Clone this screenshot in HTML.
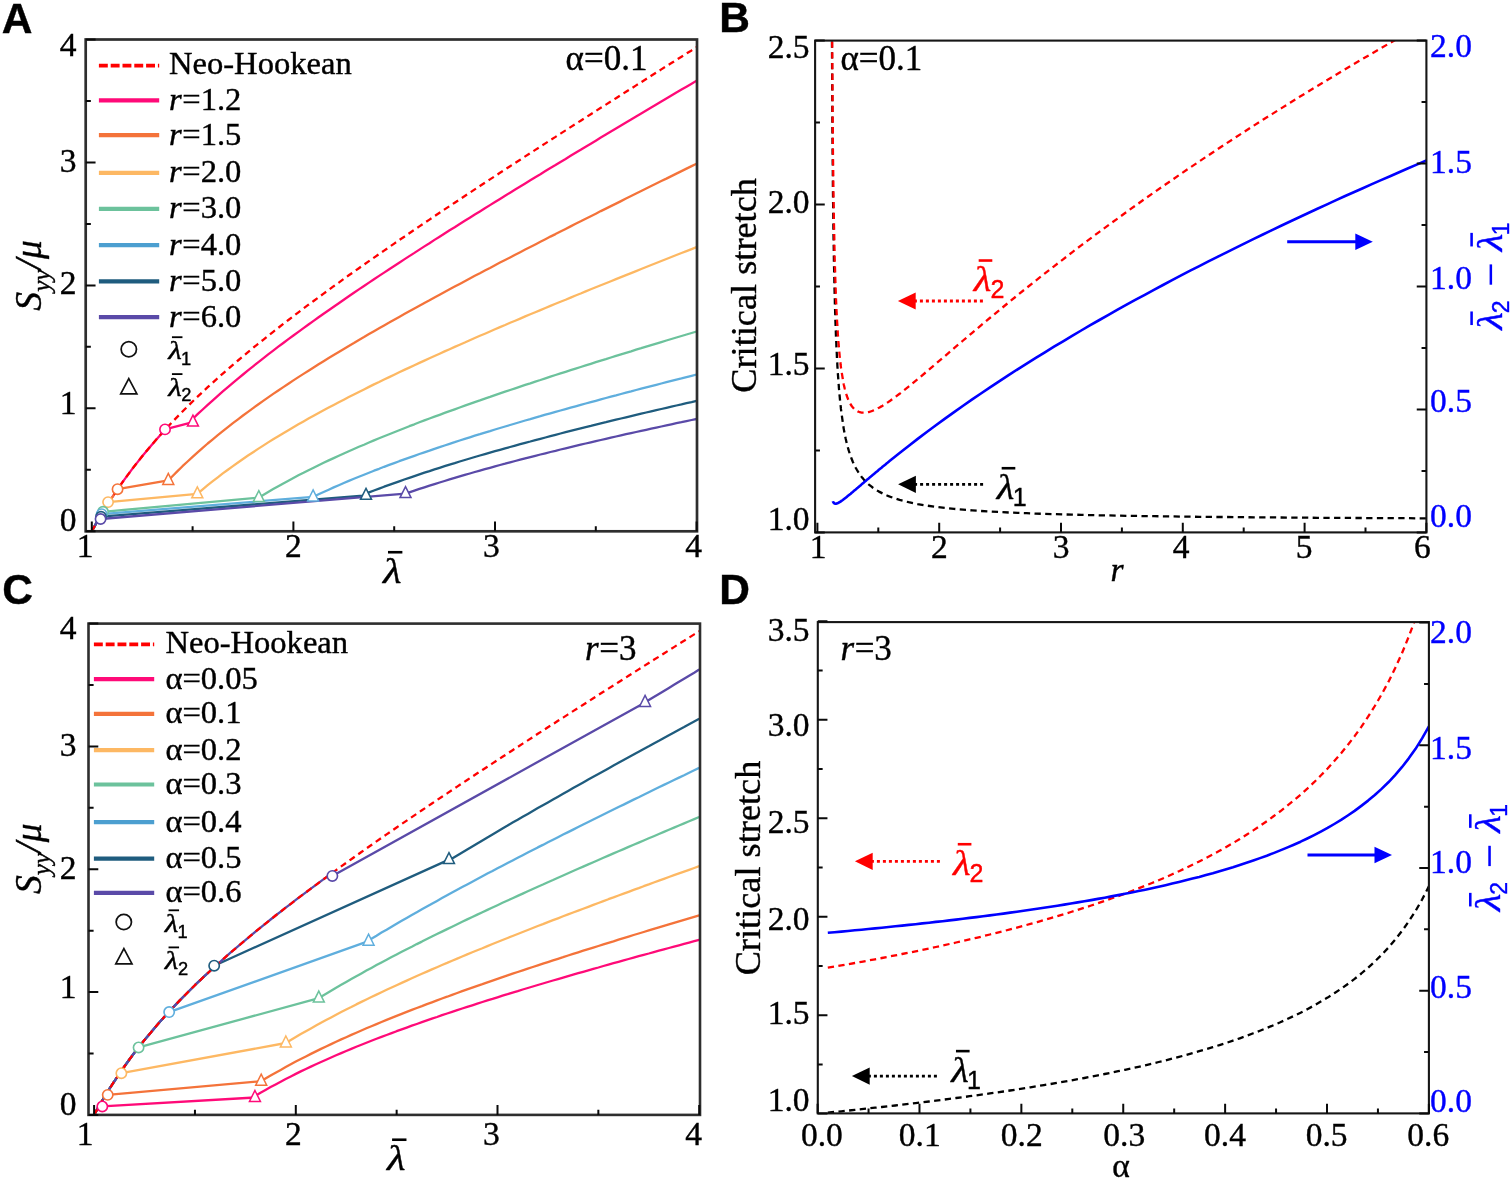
<!DOCTYPE html>
<html><head><meta charset="utf-8"><title>Figure</title>
<style>html,body{margin:0;padding:0;background:#fff}svg{display:block}text{stroke:#000;stroke-width:.4px}text[fill="#0000FF"],g[fill="#0000FF"] text{stroke:#0000FF}text[fill="#FF0000"],g[fill="#FF0000"] text{stroke:#FF0000}</style></head>
<body>
<svg width="1511" height="1181" viewBox="0 0 1511 1181">
<rect width="1511" height="1181" fill="#fff"/>
<clipPath id="clipA"><rect x="85.7" y="39.5" width="611.3" height="491.79999999999995"/></clipPath>
<g clip-path="url(#clipA)" fill="none" stroke-linejoin="round" stroke-width="2.3">
<path d="M91.8,531.3 L96.8,522.3 L101.9,513.7 L106.9,505.5 L112.0,497.7 L117.0,490.1 L122.0,482.9 L127.1,475.9 L132.1,469.1 L137.2,462.6 L142.2,456.3 L147.2,450.2 L152.3,444.2 L157.3,438.4 L162.4,432.8 L165.0,429.4 L192.9,422.1 L192.6,419.0 L197.6,414.2 L202.7,409.5 L207.7,404.9 L212.8,400.3 L217.8,395.8 L222.8,391.4 L227.9,387.1 L232.9,382.8 L238.0,378.6 L243.0,374.5 L248.0,370.4 L253.1,366.3 L258.1,362.3 L263.2,358.4 L268.2,354.4 L273.2,350.6 L278.3,346.7 L283.3,343.0 L288.4,339.2 L293.4,335.5 L298.4,331.8 L303.5,328.1 L308.5,324.5 L313.6,320.9 L318.6,317.3 L323.6,313.7 L328.7,310.2 L333.7,306.7 L338.8,303.2 L343.8,299.7 L348.8,296.3 L353.9,292.8 L358.9,289.4 L364.0,286.0 L369.0,282.6 L374.0,279.3 L379.1,275.9 L384.1,272.6 L389.2,269.3 L394.2,266.0 L399.2,262.7 L404.3,259.4 L409.3,256.1 L414.4,252.9 L419.4,249.6 L424.4,246.4 L429.5,243.2 L434.5,239.9 L439.6,236.7 L444.6,233.5 L449.6,230.3 L454.7,227.2 L459.7,224.0 L464.8,220.8 L469.8,217.7 L474.8,214.5 L479.9,211.4 L484.9,208.3 L490.0,205.1 L495.0,202.0 L500.0,198.9 L505.1,195.8 L510.1,192.7 L515.2,189.6 L520.2,186.5 L525.2,183.4 L530.3,180.3 L535.3,177.2 L540.4,174.2 L545.4,171.1 L550.4,168.0 L555.5,165.0 L560.5,161.9 L565.6,158.9 L570.6,155.8 L575.6,152.8 L580.7,149.8 L585.7,146.7 L590.8,143.7 L595.8,140.7 L600.8,137.6 L605.9,134.6 L610.9,131.6 L616.0,128.6 L621.0,125.6 L626.0,122.6 L631.1,119.6 L636.1,116.6 L641.2,113.6 L646.2,110.6 L651.2,107.6 L656.3,104.6 L661.3,101.6 L666.4,98.6 L671.4,95.6 L676.4,92.6 L681.5,89.6 L686.5,86.7 L691.6,83.7 L696.6,80.7" stroke="#FF0A78"/>
<path d="M91.8,531.3 L96.8,522.3 L101.9,513.7 L106.9,505.5 L112.0,497.7 L117.0,490.1 L117.6,489.2 L168.3,480.4 L172.4,476.2 L177.5,471.1 L182.5,466.2 L187.6,461.5 L192.6,456.8 L197.6,452.3 L202.7,447.9 L207.7,443.5 L212.8,439.3 L217.8,435.2 L222.8,431.1 L227.9,427.1 L232.9,423.2 L238.0,419.3 L243.0,415.5 L248.0,411.8 L253.1,408.1 L258.1,404.5 L263.2,400.9 L268.2,397.4 L273.2,393.9 L278.3,390.5 L283.3,387.1 L288.4,383.7 L293.4,380.4 L298.4,377.1 L303.5,373.9 L308.5,370.7 L313.6,367.5 L318.6,364.3 L323.6,361.2 L328.7,358.1 L333.7,355.0 L338.8,352.0 L343.8,349.0 L348.8,345.9 L353.9,343.0 L358.9,340.0 L364.0,337.1 L369.0,334.1 L374.0,331.2 L379.1,328.3 L384.1,325.4 L389.2,322.6 L394.2,319.7 L399.2,316.9 L404.3,314.1 L409.3,311.3 L414.4,308.5 L419.4,305.7 L424.4,302.9 L429.5,300.2 L434.5,297.4 L439.6,294.7 L444.6,292.0 L449.6,289.3 L454.7,286.6 L459.7,283.9 L464.8,281.2 L469.8,278.5 L474.8,275.8 L479.9,273.2 L484.9,270.5 L490.0,267.9 L495.0,265.2 L500.0,262.6 L505.1,260.0 L510.1,257.4 L515.2,254.8 L520.2,252.2 L525.2,249.6 L530.3,247.0 L535.3,244.4 L540.4,241.8 L545.4,239.2 L550.4,236.6 L555.5,234.1 L560.5,231.5 L565.6,228.9 L570.6,226.4 L575.6,223.8 L580.7,221.3 L585.7,218.7 L590.8,216.2 L595.8,213.7 L600.8,211.1 L605.9,208.6 L610.9,206.1 L616.0,203.6 L621.0,201.1 L626.0,198.5 L631.1,196.0 L636.1,193.5 L641.2,191.0 L646.2,188.5 L651.2,186.0 L656.3,183.5 L661.3,181.0 L666.4,178.6 L671.4,176.1 L676.4,173.6 L681.5,171.1 L686.5,168.6 L691.6,166.1 L696.6,163.7" stroke="#F4733A"/>
<path d="M91.8,531.3 L96.8,522.3 L101.9,513.7 L106.9,505.5 L108.1,502.1 L197.3,493.8 L197.6,493.6 L202.7,489.3 L207.7,485.2 L212.8,481.2 L217.8,477.3 L222.8,473.4 L227.9,469.7 L232.9,466.1 L238.0,462.5 L243.0,459.0 L248.0,455.5 L253.1,452.2 L258.1,448.9 L263.2,445.6 L268.2,442.4 L273.2,439.3 L278.3,436.2 L283.3,433.2 L288.4,430.2 L293.4,427.2 L298.4,424.3 L303.5,421.4 L308.5,418.6 L313.6,415.8 L318.6,413.0 L323.6,410.3 L328.7,407.6 L333.7,404.9 L338.8,402.3 L343.8,399.7 L348.8,397.1 L353.9,394.5 L358.9,392.0 L364.0,389.4 L369.0,386.9 L374.0,384.4 L379.1,382.0 L384.1,379.5 L389.2,377.1 L394.2,374.7 L399.2,372.3 L404.3,369.9 L409.3,367.6 L414.4,365.2 L419.4,362.9 L424.4,360.6 L429.5,358.3 L434.5,356.0 L439.6,353.7 L444.6,351.4 L449.6,349.2 L454.7,346.9 L459.7,344.7 L464.8,342.5 L469.8,340.2 L474.8,338.0 L479.9,335.8 L484.9,333.7 L490.0,331.5 L495.0,329.3 L500.0,327.1 L505.1,325.0 L510.1,322.8 L515.2,320.7 L520.2,318.6 L525.2,316.4 L530.3,314.3 L535.3,312.2 L540.4,310.1 L545.4,308.0 L550.4,305.9 L555.5,303.8 L560.5,301.7 L565.6,299.7 L570.6,297.6 L575.6,295.5 L580.7,293.5 L585.7,291.4 L590.8,289.3 L595.8,287.3 L600.8,285.3 L605.9,283.2 L610.9,281.2 L616.0,279.1 L621.0,277.1 L626.0,275.1 L631.1,273.1 L636.1,271.1 L641.2,269.0 L646.2,267.0 L651.2,265.0 L656.3,263.0 L661.3,261.0 L666.4,259.0 L671.4,257.0 L676.4,255.0 L681.5,253.0 L686.5,251.1 L691.6,249.1 L696.6,247.1" stroke="#FDB863"/>
<path d="M91.8,531.3 L96.8,522.3 L101.9,513.7 L103.0,511.8 L258.8,497.6 L263.2,495.0 L268.2,492.0 L273.2,489.1 L278.3,486.2 L283.3,483.4 L288.4,480.7 L293.4,478.0 L298.4,475.3 L303.5,472.8 L308.5,470.2 L313.6,467.7 L318.6,465.2 L323.6,462.8 L328.7,460.4 L333.7,458.1 L338.8,455.8 L343.8,453.5 L348.8,451.2 L353.9,449.0 L358.9,446.8 L364.0,444.7 L369.0,442.5 L374.0,440.4 L379.1,438.3 L384.1,436.2 L389.2,434.2 L394.2,432.2 L399.2,430.2 L404.3,428.2 L409.3,426.2 L414.4,424.3 L419.4,422.3 L424.4,420.4 L429.5,418.5 L434.5,416.7 L439.6,414.8 L444.6,412.9 L449.6,411.1 L454.7,409.3 L459.7,407.5 L464.8,405.7 L469.8,403.9 L474.8,402.1 L479.9,400.4 L484.9,398.6 L490.0,396.9 L495.0,395.1 L500.0,393.4 L505.1,391.7 L510.1,390.0 L515.2,388.3 L520.2,386.6 L525.2,384.9 L530.3,383.3 L535.3,381.6 L540.4,380.0 L545.4,378.3 L550.4,376.7 L555.5,375.0 L560.5,373.4 L565.6,371.8 L570.6,370.2 L575.6,368.6 L580.7,367.0 L585.7,365.4 L590.8,363.8 L595.8,362.2 L600.8,360.6 L605.9,359.1 L610.9,357.5 L616.0,355.9 L621.0,354.4 L626.0,352.8 L631.1,351.3 L636.1,349.7 L641.2,348.2 L646.2,346.6 L651.2,345.1 L656.3,343.6 L661.3,342.1 L666.4,340.5 L671.4,339.0 L676.4,337.5 L681.5,336.0 L686.5,334.5 L691.6,333.0 L696.6,331.5" stroke="#6CC29C"/>
<path d="M91.8,531.3 L96.8,522.3 L101.6,514.1 L313.1,496.9 L313.6,496.7 L318.6,494.3 L323.6,492.0 L328.7,489.7 L333.7,487.4 L338.8,485.2 L343.8,483.0 L348.8,480.9 L353.9,478.8 L358.9,476.7 L364.0,474.7 L369.0,472.7 L374.0,470.7 L379.1,468.8 L384.1,466.8 L389.2,464.9 L394.2,463.1 L399.2,461.2 L404.3,459.4 L409.3,457.6 L414.4,455.8 L419.4,454.0 L424.4,452.3 L429.5,450.6 L434.5,448.8 L439.6,447.2 L444.6,445.5 L449.6,443.8 L454.7,442.2 L459.7,440.5 L464.8,438.9 L469.8,437.3 L474.8,435.7 L479.9,434.2 L484.9,432.6 L490.0,431.1 L495.0,429.5 L500.0,428.0 L505.1,426.5 L510.1,425.0 L515.2,423.5 L520.2,422.0 L525.2,420.5 L530.3,419.1 L535.3,417.6 L540.4,416.2 L545.4,414.7 L550.4,413.3 L555.5,411.9 L560.5,410.5 L565.6,409.1 L570.6,407.7 L575.6,406.3 L580.7,404.9 L585.7,403.5 L590.8,402.1 L595.8,400.8 L600.8,399.4 L605.9,398.0 L610.9,396.7 L616.0,395.4 L621.0,394.0 L626.0,392.7 L631.1,391.4 L636.1,390.0 L641.2,388.7 L646.2,387.4 L651.2,386.1 L656.3,384.8 L661.3,383.5 L666.4,382.2 L671.4,380.9 L676.4,379.6 L681.5,378.4 L686.5,377.1 L691.6,375.8 L696.6,374.5" stroke="#5FAEDD"/>
<path d="M91.8,531.3 L96.8,522.3 L101.0,516.7 L366.0,495.4 L364.0,494.4 L369.0,492.4 L374.0,490.5 L379.1,488.6 L384.1,486.7 L389.2,484.9 L394.2,483.1 L399.2,481.3 L404.3,479.5 L409.3,477.8 L414.4,476.1 L419.4,474.4 L424.4,472.7 L429.5,471.1 L434.5,469.4 L439.6,467.8 L444.6,466.2 L449.6,464.6 L454.7,463.1 L459.7,461.5 L464.8,460.0 L469.8,458.5 L474.8,457.0 L479.9,455.5 L484.9,454.1 L490.0,452.6 L495.0,451.2 L500.0,449.8 L505.1,448.4 L510.1,447.0 L515.2,445.6 L520.2,444.2 L525.2,442.8 L530.3,441.5 L535.3,440.1 L540.4,438.8 L545.4,437.5 L550.4,436.1 L555.5,434.8 L560.5,433.5 L565.6,432.2 L570.6,430.9 L575.6,429.7 L580.7,428.4 L585.7,427.1 L590.8,425.9 L595.8,424.6 L600.8,423.4 L605.9,422.2 L610.9,420.9 L616.0,419.7 L621.0,418.5 L626.0,417.3 L631.1,416.1 L636.1,414.9 L641.2,413.7 L646.2,412.5 L651.2,411.4 L656.3,410.2 L661.3,409.0 L666.4,407.8 L671.4,406.7 L676.4,405.5 L681.5,404.4 L686.5,403.2 L691.6,402.1 L696.6,400.9" stroke="#1F5C7E"/>
<path d="M91.8,531.3 L96.8,522.3 L100.6,519.0 L405.5,493.6 L409.3,492.3 L414.4,490.6 L419.4,488.9 L424.4,487.3 L429.5,485.7 L434.5,484.1 L439.6,482.5 L444.6,481.0 L449.6,479.4 L454.7,477.9 L459.7,476.4 L464.8,474.9 L469.8,473.5 L474.8,472.0 L479.9,470.6 L484.9,469.2 L490.0,467.8 L495.0,466.4 L500.0,465.0 L505.1,463.7 L510.1,462.3 L515.2,461.0 L520.2,459.7 L525.2,458.4 L530.3,457.1 L535.3,455.8 L540.4,454.5 L545.4,453.3 L550.4,452.0 L555.5,450.8 L560.5,449.5 L565.6,448.3 L570.6,447.1 L575.6,445.9 L580.7,444.7 L585.7,443.5 L590.8,442.3 L595.8,441.1 L600.8,440.0 L605.9,438.8 L610.9,437.7 L616.0,436.5 L621.0,435.4 L626.0,434.2 L631.1,433.1 L636.1,432.0 L641.2,430.9 L646.2,429.8 L651.2,428.7 L656.3,427.6 L661.3,426.5 L666.4,425.4 L671.4,424.3 L676.4,423.2 L681.5,422.2 L686.5,421.1 L691.6,420.0 L696.6,419.0" stroke="#5A4AA8"/>
<path d="M91.8,531.3 L96.8,522.3 L101.9,513.7 L106.9,505.5 L112.0,497.7 L117.0,490.1 L122.0,482.9 L127.1,475.9 L132.1,469.1 L137.2,462.6 L142.2,456.3 L147.2,450.2 L152.3,444.2 L157.3,438.4 L162.4,432.8 L167.4,427.3 L172.4,421.9 L177.5,416.6 L182.5,411.5 L187.6,406.5 L192.6,401.5 L197.6,396.7 L202.7,391.9 L207.7,387.2 L212.8,382.6 L217.8,378.1 L222.8,373.6 L227.9,369.2 L232.9,364.8 L238.0,360.5 L243.0,356.3 L248.0,352.1 L253.1,347.9 L258.1,343.8 L263.2,339.8 L268.2,335.7 L273.2,331.8 L278.3,327.8 L283.3,323.9 L288.4,320.0 L293.4,316.1 L298.4,312.3 L303.5,308.5 L308.5,304.7 L313.6,301.0 L318.6,297.3 L323.6,293.6 L328.7,289.9 L333.7,286.2 L338.8,282.6 L343.8,278.9 L348.8,275.3 L353.9,271.8 L358.9,268.2 L364.0,264.6 L369.0,261.1 L374.0,257.6 L379.1,254.1 L384.1,250.6 L389.2,247.1 L394.2,243.6 L399.2,240.1 L404.3,236.7 L409.3,233.2 L414.4,229.8 L419.4,226.4 L424.4,223.0 L429.5,219.6 L434.5,216.2 L439.6,212.8 L444.6,209.4 L449.6,206.1 L454.7,202.7 L459.7,199.4 L464.8,196.0 L469.8,192.7 L474.8,189.4 L479.9,186.0 L484.9,182.7 L490.0,179.4 L495.0,176.1 L500.0,172.8 L505.1,169.5 L510.1,166.2 L515.2,162.9 L520.2,159.7 L525.2,156.4 L530.3,153.1 L535.3,149.9 L540.4,146.6 L545.4,143.4 L550.4,140.1 L555.5,136.9 L560.5,133.6 L565.6,130.4 L570.6,127.1 L575.6,123.9 L580.7,120.7 L585.7,117.5 L590.8,114.2 L595.8,111.0 L600.8,107.8 L605.9,104.6 L610.9,101.4 L616.0,98.2 L621.0,95.0 L626.0,91.8 L631.1,88.6 L636.1,85.4 L641.2,82.2 L646.2,79.0 L651.2,75.8 L656.3,72.6 L661.3,69.4 L666.4,66.2 L671.4,63.1 L676.4,59.9 L681.5,56.7 L686.5,53.5 L691.6,50.4 L696.6,47.2" stroke="#FF0000" stroke-dasharray="6.3 4.4"/>
</g>
<circle cx="165.01" cy="429.38" r="5.15" fill="#fff" stroke="#FF0A78" stroke-width="1.65"/>
<circle cx="117.55" cy="489.16" r="5.15" fill="#fff" stroke="#F4733A" stroke-width="1.65"/>
<circle cx="108.07" cy="502.11" r="5.15" fill="#fff" stroke="#FDB863" stroke-width="1.65"/>
<circle cx="103.02" cy="511.83" r="5.15" fill="#fff" stroke="#6CC29C" stroke-width="1.65"/>
<circle cx="101.65" cy="514.11" r="5.15" fill="#fff" stroke="#5FAEDD" stroke-width="1.65"/>
<circle cx="100.98" cy="516.73" r="5.15" fill="#fff" stroke="#1F5C7E" stroke-width="1.65"/>
<circle cx="100.58" cy="519.00" r="5.15" fill="#fff" stroke="#5A4AA8" stroke-width="1.65"/>
<path d="M192.93,415.12 l5.5,11 h-11 Z" fill="#fff" stroke="#FF0A78" stroke-width="1.5"/>
<path d="M168.28,473.42 l5.5,11 h-11 Z" fill="#fff" stroke="#F4733A" stroke-width="1.5"/>
<path d="M197.32,486.84 l5.5,11 h-11 Z" fill="#fff" stroke="#FDB863" stroke-width="1.5"/>
<path d="M258.82,490.58 l5.5,11 h-11 Z" fill="#fff" stroke="#6CC29C" stroke-width="1.5"/>
<path d="M313.10,489.91 l5.5,11 h-11 Z" fill="#fff" stroke="#5FAEDD" stroke-width="1.5"/>
<path d="M366.01,488.37 l5.5,11 h-11 Z" fill="#fff" stroke="#1F5C7E" stroke-width="1.5"/>
<path d="M405.51,486.59 l5.5,11 h-11 Z" fill="#fff" stroke="#5A4AA8" stroke-width="1.5"/>
<rect x="85.70" y="39.50" width="611.30" height="491.80" fill="none" stroke="#2e2e2e" stroke-width="2.7"/>
<path d="M91.80,531.30v-9.85M293.40,531.30v-9.85M495.00,531.30v-9.85M696.60,531.30v-9.85" stroke="#0a0a0a" stroke-width="2.0" fill="none"/>
<path d="M192.60,531.30v-5.15M394.20,531.30v-5.15M595.80,531.30v-5.15" stroke="#0a0a0a" stroke-width="2.0" fill="none"/>
<path d="M85.70,531.30h9.85M85.70,408.35h9.85M85.70,285.40h9.85M85.70,162.45h9.85M85.70,39.50h9.85" stroke="#0a0a0a" stroke-width="2.0" fill="none"/>
<path d="M85.70,469.82h5.15M85.70,346.87h5.15M85.70,223.92h5.15M85.70,100.97h5.15" stroke="#0a0a0a" stroke-width="2.0" fill="none"/>
<text x="76.5" y="56.1" text-anchor="end" style='font-family:"Liberation Serif", serif;font-size:33.5px;' >4</text>
<text x="76.5" y="172.1" text-anchor="end" style='font-family:"Liberation Serif", serif;font-size:33.5px;' >3</text>
<text x="76.5" y="294.4" text-anchor="end" style='font-family:"Liberation Serif", serif;font-size:33.5px;' >2</text>
<text x="76.5" y="414.1" text-anchor="end" style='font-family:"Liberation Serif", serif;font-size:33.5px;' >1</text>
<text x="76.5" y="531.3" text-anchor="end" style='font-family:"Liberation Serif", serif;font-size:33.5px;' >0</text>
<text x="85.0" y="556.9" text-anchor="middle" style='font-family:"Liberation Serif", serif;font-size:33.5px;' >1</text>
<text x="293.4" y="556.9" text-anchor="middle" style='font-family:"Liberation Serif", serif;font-size:33.5px;' >2</text>
<text x="491.4" y="556.9" text-anchor="middle" style='font-family:"Liberation Serif", serif;font-size:33.5px;' >3</text>
<text x="693.7" y="556.9" text-anchor="middle" style='font-family:"Liberation Serif", serif;font-size:33.5px;' >4</text>
<line x1="98.9" y1="65.6" x2="159.2" y2="65.6" stroke="#FF0000" stroke-width="3.8" stroke-dasharray="8.9 2.9"/>
<line x1="98.9" y1="100.3" x2="159.2" y2="100.3" stroke="#FF0A78" stroke-width="4.2"/>
<line x1="98.9" y1="135.2" x2="159.2" y2="135.2" stroke="#F4733A" stroke-width="4.2"/>
<line x1="98.9" y1="172.9" x2="159.2" y2="172.9" stroke="#FDB863" stroke-width="4.2"/>
<line x1="98.9" y1="208.8" x2="159.2" y2="208.8" stroke="#6CC29C" stroke-width="4.2"/>
<line x1="98.9" y1="245.1" x2="159.2" y2="245.1" stroke="#4C9FD0" stroke-width="4.2"/>
<line x1="98.9" y1="281.4" x2="159.2" y2="281.4" stroke="#1F5C7E" stroke-width="4.2"/>
<line x1="98.9" y1="317.2" x2="159.2" y2="317.2" stroke="#5A4AA8" stroke-width="4.2"/>
<text x="169.0" y="73.9" style='font-family:"Liberation Serif", serif;font-size:32.6px;' >Neo-Hookean</text>
<text x="169.0" y="109.7" style='font-family:"Liberation Serif", serif;font-size:32.6px'><tspan font-style="italic">r</tspan><tspan dx="0.6">=1.2</tspan></text>
<text x="169.0" y="144.6" style='font-family:"Liberation Serif", serif;font-size:32.6px'><tspan font-style="italic">r</tspan><tspan dx="0.6">=1.5</tspan></text>
<text x="169.0" y="182.3" style='font-family:"Liberation Serif", serif;font-size:32.6px'><tspan font-style="italic">r</tspan><tspan dx="0.6">=2.0</tspan></text>
<text x="169.0" y="218.2" style='font-family:"Liberation Serif", serif;font-size:32.6px'><tspan font-style="italic">r</tspan><tspan dx="0.6">=3.0</tspan></text>
<text x="169.0" y="254.5" style='font-family:"Liberation Serif", serif;font-size:32.6px'><tspan font-style="italic">r</tspan><tspan dx="0.6">=4.0</tspan></text>
<text x="169.0" y="290.8" style='font-family:"Liberation Serif", serif;font-size:32.6px'><tspan font-style="italic">r</tspan><tspan dx="0.6">=5.0</tspan></text>
<text x="169.0" y="326.6" style='font-family:"Liberation Serif", serif;font-size:32.6px'><tspan font-style="italic">r</tspan><tspan dx="0.6">=6.0</tspan></text>
<circle cx="128.8" cy="349.2" r="7.65" fill="none" stroke="#111" stroke-width="1.75"/>
<path d="M128.8,378.6 l8.1,15.3 h-16.2 Z" fill="none" stroke="#111" stroke-width="1.7"/>
<g fill="#000" stroke="none">
<text transform="translate(168.25,358.80) scale(1.2,1)" style='font-family:"Liberation Serif", serif;font-size:26px;font-style:italic'>λ</text>
<rect x="171.95" y="336.29" width="10.51" height="1.83"/>
<text x="180.89" y="364.59" style='font-family:"Liberation Sans", sans-serif;font-size:18.3px'>1</text>
</g>
<g fill="#000" stroke="none">
<text transform="translate(168.25,395.70) scale(1.2,1)" style='font-family:"Liberation Serif", serif;font-size:26px;font-style:italic'>λ</text>
<rect x="171.95" y="373.19" width="10.51" height="1.83"/>
<text x="181.36" y="401.49" style='font-family:"Liberation Sans", sans-serif;font-size:18.3px'>2</text>
</g>
<text x="565.6" y="69.9" style='font-family:"Liberation Serif", serif;font-size:35.0px;' >α=0.1</text>
<g fill="#000" stroke="none">
<text transform="translate(382.92,582.80) scale(1.16,1)" style='font-family:"Liberation Serif", serif;font-size:36.8px;font-style:italic'>λ</text>
<rect x="387.99" y="550.93" width="14.38" height="2.59"/>
</g>
<text transform="translate(41.1,275.4) rotate(-90)" text-anchor="middle" style='font-family:"Liberation Serif", serif;font-size:37.6px;font-style:italic'>S<tspan font-size="25.2" dy="8.6">yy</tspan><tspan dy="-8.6">/μ</tspan></text>
<text x="1.7" y="32.8" style='font-family:"Liberation Sans", sans-serif;font-size:42.5px;font-weight:bold;' >A</text>
<clipPath id="clipC"><rect x="88.5" y="623.6" width="611.5" height="491.30000000000007"/></clipPath>
<g clip-path="url(#clipC)" fill="none" stroke-linejoin="round" stroke-width="2.3">
<path d="M94.1,1114.9 L99.1,1105.9 L102.3,1106.4 L255.0,1097.5 L255.5,1095.8 L260.5,1092.8 L265.5,1090.0 L270.6,1087.1 L275.6,1084.4 L280.7,1081.7 L285.7,1079.0 L290.8,1076.4 L295.8,1073.9 L300.8,1071.4 L305.9,1069.0 L310.9,1066.6 L316.0,1064.3 L321.0,1062.0 L326.1,1059.7 L331.1,1057.5 L336.1,1055.3 L341.2,1053.1 L346.2,1051.0 L351.3,1048.9 L356.3,1046.8 L361.4,1044.8 L366.4,1042.8 L371.4,1040.8 L376.5,1038.8 L381.5,1036.9 L386.6,1035.0 L391.6,1033.1 L396.6,1031.2 L401.7,1029.4 L406.7,1027.6 L411.8,1025.7 L416.8,1024.0 L421.9,1022.2 L426.9,1020.4 L431.9,1018.7 L437.0,1017.0 L442.0,1015.2 L447.1,1013.5 L452.1,1011.9 L457.2,1010.2 L462.2,1008.5 L467.2,1006.9 L472.3,1005.3 L477.3,1003.7 L482.4,1002.0 L487.4,1000.4 L492.5,998.9 L497.5,997.3 L502.5,995.7 L507.6,994.2 L512.6,992.6 L517.7,991.1 L522.7,989.5 L527.8,988.0 L532.8,986.5 L537.8,985.0 L542.9,983.5 L547.9,982.0 L553.0,980.5 L558.0,979.1 L563.1,977.6 L568.1,976.1 L573.1,974.7 L578.2,973.2 L583.2,971.8 L588.3,970.3 L593.3,968.9 L598.4,967.5 L603.4,966.0 L608.4,964.6 L613.5,963.2 L618.5,961.8 L623.6,960.4 L628.6,959.0 L633.6,957.6 L638.7,956.2 L643.7,954.8 L648.8,953.5 L653.8,952.1 L658.9,950.7 L663.9,949.3 L668.9,948.0 L674.0,946.6 L679.0,945.3 L684.1,943.9 L689.1,942.6 L694.2,941.2 L699.2,939.9" stroke="#FF0A78"/>
<path d="M94.1,1114.9 L99.1,1105.9 L104.2,1097.3 L107.7,1094.8 L261.2,1081.2 L265.5,1078.6 L270.6,1075.6 L275.6,1072.7 L280.7,1069.9 L285.7,1067.1 L290.8,1064.3 L295.8,1061.6 L300.8,1059.0 L305.9,1056.4 L310.9,1053.9 L316.0,1051.4 L321.0,1048.9 L326.1,1046.5 L331.1,1044.1 L336.1,1041.8 L341.2,1039.4 L346.2,1037.2 L351.3,1034.9 L356.3,1032.7 L361.4,1030.5 L366.4,1028.3 L371.4,1026.2 L376.5,1024.1 L381.5,1022.0 L386.6,1019.9 L391.6,1017.9 L396.6,1015.9 L401.7,1013.9 L406.7,1011.9 L411.8,1009.9 L416.8,1008.0 L421.9,1006.1 L426.9,1004.1 L431.9,1002.3 L437.0,1000.4 L442.0,998.5 L447.1,996.7 L452.1,994.8 L457.2,993.0 L462.2,991.2 L467.2,989.4 L472.3,987.6 L477.3,985.8 L482.4,984.1 L487.4,982.3 L492.5,980.6 L497.5,978.9 L502.5,977.1 L507.6,975.4 L512.6,973.7 L517.7,972.0 L522.7,970.4 L527.8,968.7 L532.8,967.0 L537.8,965.4 L542.9,963.7 L547.9,962.1 L553.0,960.4 L558.0,958.8 L563.1,957.2 L568.1,955.5 L573.1,953.9 L578.2,952.3 L583.2,950.7 L588.3,949.1 L593.3,947.6 L598.4,946.0 L603.4,944.4 L608.4,942.8 L613.5,941.3 L618.5,939.7 L623.6,938.1 L628.6,936.6 L633.6,935.0 L638.7,933.5 L643.7,932.0 L648.8,930.4 L653.8,928.9 L658.9,927.4 L663.9,925.9 L668.9,924.3 L674.0,922.8 L679.0,921.3 L684.1,919.8 L689.1,918.3 L694.2,916.8 L699.2,915.3" stroke="#F4733A"/>
<path d="M94.1,1114.9 L99.1,1105.9 L104.2,1097.3 L109.2,1089.1 L114.3,1081.3 L119.3,1073.8 L121.4,1073.2 L285.9,1043.0 L290.8,1040.1 L295.8,1037.1 L300.8,1034.1 L305.9,1031.2 L310.9,1028.4 L316.0,1025.6 L321.0,1022.8 L326.1,1020.1 L331.1,1017.4 L336.1,1014.7 L341.2,1012.1 L346.2,1009.5 L351.3,1007.0 L356.3,1004.4 L361.4,1001.9 L366.4,999.5 L371.4,997.0 L376.5,994.6 L381.5,992.2 L386.6,989.8 L391.6,987.5 L396.6,985.2 L401.7,982.9 L406.7,980.6 L411.8,978.3 L416.8,976.0 L421.9,973.8 L426.9,971.6 L431.9,969.4 L437.0,967.2 L442.0,965.0 L447.1,962.9 L452.1,960.7 L457.2,958.6 L462.2,956.5 L467.2,954.4 L472.3,952.3 L477.3,950.2 L482.4,948.2 L487.4,946.1 L492.5,944.0 L497.5,942.0 L502.5,940.0 L507.6,938.0 L512.6,936.0 L517.7,934.0 L522.7,932.0 L527.8,930.0 L532.8,928.0 L537.8,926.0 L542.9,924.1 L547.9,922.1 L553.0,920.2 L558.0,918.3 L563.1,916.3 L568.1,914.4 L573.1,912.5 L578.2,910.6 L583.2,908.7 L588.3,906.8 L593.3,904.9 L598.4,903.0 L603.4,901.1 L608.4,899.2 L613.5,897.4 L618.5,895.5 L623.6,893.6 L628.6,891.8 L633.6,889.9 L638.7,888.1 L643.7,886.2 L648.8,884.4 L653.8,882.5 L658.9,880.7 L663.9,878.9 L668.9,877.0 L674.0,875.2 L679.0,873.4 L684.1,871.6 L689.1,869.8 L694.2,868.0 L699.2,866.2" stroke="#FDB863"/>
<path d="M94.1,1114.9 L99.1,1105.9 L104.2,1097.3 L109.2,1089.1 L114.3,1081.3 L119.3,1073.8 L124.4,1066.5 L129.4,1059.5 L134.4,1052.8 L138.6,1047.4 L318.8,998.1 L321.0,996.7 L326.1,993.7 L331.1,990.7 L336.1,987.7 L341.2,984.8 L346.2,981.9 L351.3,979.0 L356.3,976.2 L361.4,973.4 L366.4,970.6 L371.4,967.9 L376.5,965.1 L381.5,962.4 L386.6,959.8 L391.6,957.1 L396.6,954.5 L401.7,951.8 L406.7,949.2 L411.8,946.7 L416.8,944.1 L421.9,941.6 L426.9,939.0 L431.9,936.5 L437.0,934.0 L442.0,931.6 L447.1,929.1 L452.1,926.7 L457.2,924.2 L462.2,921.8 L467.2,919.4 L472.3,917.0 L477.3,914.6 L482.4,912.2 L487.4,909.9 L492.5,907.5 L497.5,905.2 L502.5,902.8 L507.6,900.5 L512.6,898.2 L517.7,895.9 L522.7,893.6 L527.8,891.3 L532.8,889.0 L537.8,886.7 L542.9,884.5 L547.9,882.2 L553.0,880.0 L558.0,877.7 L563.1,875.5 L568.1,873.3 L573.1,871.0 L578.2,868.8 L583.2,866.6 L588.3,864.4 L593.3,862.2 L598.4,860.0 L603.4,857.8 L608.4,855.6 L613.5,853.4 L618.5,851.3 L623.6,849.1 L628.6,846.9 L633.6,844.8 L638.7,842.6 L643.7,840.5 L648.8,838.3 L653.8,836.2 L658.9,834.0 L663.9,831.9 L668.9,829.8 L674.0,827.6 L679.0,825.5 L684.1,823.4 L689.1,821.3 L694.2,819.1 L699.2,817.0" stroke="#6CC29C"/>
<path d="M94.1,1114.9 L99.1,1105.9 L104.2,1097.3 L109.2,1089.1 L114.3,1081.3 L119.3,1073.8 L124.4,1066.5 L129.4,1059.5 L134.4,1052.8 L139.5,1046.3 L144.5,1040.0 L149.6,1033.9 L154.6,1027.9 L159.7,1022.1 L164.7,1016.5 L169.1,1012.1 L368.5,941.2 L371.4,938.7 L376.5,935.7 L381.5,932.6 L386.6,929.7 L391.6,926.7 L396.6,923.8 L401.7,920.8 L406.7,917.9 L411.8,915.0 L416.8,912.2 L421.9,909.3 L426.9,906.5 L431.9,903.7 L437.0,900.9 L442.0,898.1 L447.1,895.3 L452.1,892.6 L457.2,889.8 L462.2,887.1 L467.2,884.4 L472.3,881.7 L477.3,879.0 L482.4,876.3 L487.4,873.6 L492.5,871.0 L497.5,868.3 L502.5,865.7 L507.6,863.0 L512.6,860.4 L517.7,857.8 L522.7,855.2 L527.8,852.6 L532.8,850.0 L537.8,847.4 L542.9,844.9 L547.9,842.3 L553.0,839.7 L558.0,837.2 L563.1,834.6 L568.1,832.1 L573.1,829.6 L578.2,827.0 L583.2,824.5 L588.3,822.0 L593.3,819.5 L598.4,817.0 L603.4,814.5 L608.4,812.0 L613.5,809.5 L618.5,807.0 L623.6,804.6 L628.6,802.1 L633.6,799.6 L638.7,797.2 L643.7,794.7 L648.8,792.2 L653.8,789.8 L658.9,787.3 L663.9,784.9 L668.9,782.5 L674.0,780.0 L679.0,777.6 L684.1,775.2 L689.1,772.7 L694.2,770.3 L699.2,767.9" stroke="#5FAEDD"/>
<path d="M94.1,1114.9 L99.1,1105.9 L104.2,1097.3 L109.2,1089.1 L114.3,1081.3 L119.3,1073.8 L124.4,1066.5 L129.4,1059.5 L134.4,1052.8 L139.5,1046.3 L144.5,1040.0 L149.6,1033.9 L154.6,1027.9 L159.7,1022.1 L164.7,1016.5 L169.7,1011.0 L174.8,1005.6 L179.8,1000.4 L184.9,995.2 L189.9,990.2 L194.9,985.2 L200.0,980.4 L205.0,975.6 L210.1,971.0 L214.2,965.7 L449.0,859.6 L447.1,861.5 L452.1,858.5 L457.2,855.4 L462.2,852.4 L467.2,849.4 L472.3,846.4 L477.3,843.4 L482.4,840.4 L487.4,837.4 L492.5,834.4 L497.5,831.5 L502.5,828.5 L507.6,825.6 L512.6,822.6 L517.7,819.7 L522.7,816.8 L527.8,813.9 L532.8,811.0 L537.8,808.1 L542.9,805.2 L547.9,802.4 L553.0,799.5 L558.0,796.7 L563.1,793.8 L568.1,791.0 L573.1,788.1 L578.2,785.3 L583.2,782.5 L588.3,779.6 L593.3,776.8 L598.4,774.0 L603.4,771.2 L608.4,768.4 L613.5,765.6 L618.5,762.8 L623.6,760.0 L628.6,757.3 L633.6,754.5 L638.7,751.7 L643.7,748.9 L648.8,746.2 L653.8,743.4 L658.9,740.7 L663.9,737.9 L668.9,735.2 L674.0,732.4 L679.0,729.7 L684.1,727.0 L689.1,724.2 L694.2,721.5 L699.2,718.8" stroke="#1F5C7E"/>
<path d="M94.1,1114.9 L99.1,1105.9 L104.2,1097.3 L109.2,1089.1 L114.3,1081.3 L119.3,1073.8 L124.4,1066.5 L129.4,1059.5 L134.4,1052.8 L139.5,1046.3 L144.5,1040.0 L149.6,1033.9 L154.6,1027.9 L159.7,1022.1 L164.7,1016.5 L169.7,1011.0 L174.8,1005.6 L179.8,1000.4 L184.9,995.2 L189.9,990.2 L194.9,985.2 L200.0,980.4 L205.0,975.6 L210.1,971.0 L215.1,966.4 L220.2,961.8 L225.2,957.3 L230.2,952.9 L235.3,948.6 L240.3,944.3 L245.4,940.1 L250.4,935.9 L255.5,931.7 L260.5,927.6 L265.5,923.6 L270.6,919.5 L275.6,915.5 L280.7,911.6 L285.7,907.7 L290.8,903.8 L295.8,899.9 L300.8,896.1 L305.9,892.3 L310.9,888.6 L316.0,884.8 L321.0,881.1 L326.1,877.4 L332.3,875.9 L645.1,702.4 L648.8,700.1 L653.8,697.1 L658.9,694.0 L663.9,690.9 L668.9,687.9 L674.0,684.8 L679.0,681.8 L684.1,678.7 L689.1,675.7 L694.2,672.7 L699.2,669.6" stroke="#5A4AA8"/>
<path d="M94.1,1114.9 L99.1,1105.9 L104.2,1097.3 L109.2,1089.1 L114.3,1081.3 L119.3,1073.8 L124.4,1066.5 L129.4,1059.5 L134.4,1052.8 L139.5,1046.3 L144.5,1040.0 L149.6,1033.9 L154.6,1027.9 L159.7,1022.1 L164.7,1016.5 L169.7,1011.0 L174.8,1005.6 L179.8,1000.4 L184.9,995.2 L189.9,990.2 L194.9,985.2 L200.0,980.4 L205.0,975.6 L210.1,971.0 L215.1,966.4 L220.2,961.8 L225.2,957.3 L230.2,952.9 L235.3,948.6 L240.3,944.3 L245.4,940.1 L250.4,935.9 L255.5,931.7 L260.5,927.6 L265.5,923.6 L270.6,919.5 L275.6,915.5 L280.7,911.6 L285.7,907.7 L290.8,903.8 L295.8,899.9 L300.8,896.1 L305.9,892.3 L310.9,888.6 L316.0,884.8 L321.0,881.1 L326.1,877.4 L331.1,873.7 L336.1,870.1 L341.2,866.4 L346.2,862.8 L351.3,859.2 L356.3,855.6 L361.4,852.0 L366.4,848.5 L371.4,845.0 L376.5,841.4 L381.5,837.9 L386.6,834.4 L391.6,830.9 L396.6,827.5 L401.7,824.0 L406.7,820.6 L411.8,817.1 L416.8,813.7 L421.9,810.3 L426.9,806.9 L431.9,803.5 L437.0,800.1 L442.0,796.7 L447.1,793.4 L452.1,790.0 L457.2,786.6 L462.2,783.3 L467.2,780.0 L472.3,776.6 L477.3,773.3 L482.4,770.0 L487.4,766.7 L492.5,763.4 L497.5,760.1 L502.5,756.8 L507.6,753.5 L512.6,750.2 L517.7,746.9 L522.7,743.6 L527.8,740.4 L532.8,737.1 L537.8,733.8 L542.9,730.6 L547.9,727.3 L553.0,724.1 L558.0,720.8 L563.1,717.6 L568.1,714.4 L573.1,711.1 L578.2,707.9 L583.2,704.7 L588.3,701.5 L593.3,698.2 L598.4,695.0 L603.4,691.8 L608.4,688.6 L613.5,685.4 L618.5,682.2 L623.6,679.0 L628.6,675.8 L633.6,672.6 L638.7,669.4 L643.7,666.2 L648.8,663.0 L653.8,659.8 L658.9,656.7 L663.9,653.5 L668.9,650.3 L674.0,647.1 L679.0,643.9 L684.1,640.8 L689.1,637.6 L694.2,634.4 L699.2,631.3" stroke="#FF0000" stroke-dasharray="6.3 4.4"/>
</g>
<circle cx="102.31" cy="1106.45" r="5.15" fill="#fff" stroke="#FF0A78" stroke-width="1.65"/>
<circle cx="107.73" cy="1094.85" r="5.15" fill="#fff" stroke="#F4733A" stroke-width="1.65"/>
<circle cx="121.36" cy="1073.20" r="5.15" fill="#fff" stroke="#FDB863" stroke-width="1.65"/>
<circle cx="138.58" cy="1047.44" r="5.15" fill="#fff" stroke="#6CC29C" stroke-width="1.65"/>
<circle cx="169.15" cy="1012.08" r="5.15" fill="#fff" stroke="#5FAEDD" stroke-width="1.65"/>
<circle cx="214.18" cy="965.66" r="5.15" fill="#fff" stroke="#1F5C7E" stroke-width="1.65"/>
<circle cx="332.35" cy="875.93" r="5.15" fill="#fff" stroke="#5A4AA8" stroke-width="1.65"/>
<path d="M254.95,1090.52 l5.5,11 h-11 Z" fill="#fff" stroke="#FF0A78" stroke-width="1.5"/>
<path d="M261.20,1074.21 l5.5,11 h-11 Z" fill="#fff" stroke="#F4733A" stroke-width="1.5"/>
<path d="M285.86,1036.02 l5.5,11 h-11 Z" fill="#fff" stroke="#FDB863" stroke-width="1.5"/>
<path d="M318.80,991.05 l5.5,11 h-11 Z" fill="#fff" stroke="#6CC29C" stroke-width="1.5"/>
<path d="M368.55,934.15 l5.5,11 h-11 Z" fill="#fff" stroke="#5FAEDD" stroke-width="1.5"/>
<path d="M448.97,852.61 l5.5,11 h-11 Z" fill="#fff" stroke="#1F5C7E" stroke-width="1.5"/>
<path d="M645.06,695.38 l5.5,11 h-11 Z" fill="#fff" stroke="#5A4AA8" stroke-width="1.5"/>
<rect x="88.50" y="623.60" width="611.50" height="491.30" fill="none" stroke="#2e2e2e" stroke-width="2.6"/>
<path d="M94.10,1114.90v-9.80M295.80,1114.90v-9.80M497.50,1114.90v-9.80M699.20,1114.90v-9.80" stroke="#0a0a0a" stroke-width="2.0" fill="none"/>
<path d="M194.95,1114.90v-5.10M396.65,1114.90v-5.10M598.35,1114.90v-5.10" stroke="#0a0a0a" stroke-width="2.0" fill="none"/>
<path d="M88.50,1114.90h9.80M88.50,992.07h9.80M88.50,869.24h9.80M88.50,746.41h9.80M88.50,623.58h9.80" stroke="#0a0a0a" stroke-width="2.0" fill="none"/>
<path d="M88.50,1053.49h5.10M88.50,930.66h5.10M88.50,807.83h5.10M88.50,685.00h5.10" stroke="#0a0a0a" stroke-width="2.0" fill="none"/>
<text x="76.5" y="638.8" text-anchor="end" style='font-family:"Liberation Serif", serif;font-size:33.5px;' >4</text>
<text x="76.5" y="756.4" text-anchor="end" style='font-family:"Liberation Serif", serif;font-size:33.5px;' >3</text>
<text x="76.5" y="878.5" text-anchor="end" style='font-family:"Liberation Serif", serif;font-size:33.5px;' >2</text>
<text x="76.5" y="998.2" text-anchor="end" style='font-family:"Liberation Serif", serif;font-size:33.5px;' >1</text>
<text x="76.5" y="1115.3" text-anchor="end" style='font-family:"Liberation Serif", serif;font-size:33.5px;' >0</text>
<text x="85.0" y="1145.2" text-anchor="middle" style='font-family:"Liberation Serif", serif;font-size:33.5px;' >1</text>
<text x="293.4" y="1145.2" text-anchor="middle" style='font-family:"Liberation Serif", serif;font-size:33.5px;' >2</text>
<text x="491.4" y="1145.2" text-anchor="middle" style='font-family:"Liberation Serif", serif;font-size:33.5px;' >3</text>
<text x="693.7" y="1145.2" text-anchor="middle" style='font-family:"Liberation Serif", serif;font-size:33.5px;' >4</text>
<line x1="93.9" y1="644.3" x2="154.2" y2="644.3" stroke="#FF0000" stroke-width="3.8" stroke-dasharray="8.9 2.9"/>
<line x1="93.9" y1="679.1" x2="154.2" y2="679.1" stroke="#FF0A78" stroke-width="4.2"/>
<line x1="93.9" y1="713.9" x2="154.2" y2="713.9" stroke="#F4733A" stroke-width="4.2"/>
<line x1="93.9" y1="750.2" x2="154.2" y2="750.2" stroke="#FDB863" stroke-width="4.2"/>
<line x1="93.9" y1="784.5" x2="154.2" y2="784.5" stroke="#6CC29C" stroke-width="4.2"/>
<line x1="93.9" y1="822.1" x2="154.2" y2="822.1" stroke="#4C9FD0" stroke-width="4.2"/>
<line x1="93.9" y1="858.6" x2="154.2" y2="858.6" stroke="#1F5C7E" stroke-width="4.2"/>
<line x1="93.9" y1="892.9" x2="154.2" y2="892.9" stroke="#5A4AA8" stroke-width="4.2"/>
<text x="165.4" y="652.6" style='font-family:"Liberation Serif", serif;font-size:32.6px;' >Neo-Hookean</text>
<text x="165.4" y="688.5" style='font-family:"Liberation Serif", serif;font-size:32.6px;' >α=0.05</text>
<text x="165.4" y="723.3" style='font-family:"Liberation Serif", serif;font-size:32.6px;' >α=0.1</text>
<text x="165.4" y="759.6" style='font-family:"Liberation Serif", serif;font-size:32.6px;' >α=0.2</text>
<text x="165.4" y="793.9" style='font-family:"Liberation Serif", serif;font-size:32.6px;' >α=0.3</text>
<text x="165.4" y="831.5" style='font-family:"Liberation Serif", serif;font-size:32.6px;' >α=0.4</text>
<text x="165.4" y="868.0" style='font-family:"Liberation Serif", serif;font-size:32.6px;' >α=0.5</text>
<text x="165.4" y="902.3" style='font-family:"Liberation Serif", serif;font-size:32.6px;' >α=0.6</text>
<circle cx="123.8" cy="922.0" r="7.65" fill="none" stroke="#111" stroke-width="1.75"/>
<path d="M123.9,948.5999999999999 l8.1,15.3 h-16.2 Z" fill="none" stroke="#111" stroke-width="1.7"/>
<g fill="#000" stroke="none">
<text transform="translate(164.85,931.90) scale(1.2,1)" style='font-family:"Liberation Serif", serif;font-size:26px;font-style:italic'>λ</text>
<rect x="168.55" y="909.39" width="10.51" height="1.83"/>
<text x="177.49" y="937.69" style='font-family:"Liberation Sans", sans-serif;font-size:18.3px'>1</text>
</g>
<g fill="#000" stroke="none">
<text transform="translate(164.85,969.00) scale(1.2,1)" style='font-family:"Liberation Serif", serif;font-size:26px;font-style:italic'>λ</text>
<rect x="168.55" y="946.49" width="10.51" height="1.83"/>
<text x="177.96" y="974.79" style='font-family:"Liberation Sans", sans-serif;font-size:18.3px'>2</text>
</g>
<text x="585.0" y="660.0" style='font-family:"Liberation Serif", serif;font-size:35.0px'><tspan font-style="italic">r</tspan><tspan dx="0.6">=3</tspan></text>
<g fill="#000" stroke="none">
<text transform="translate(387.02,1170.30) scale(1.16,1)" style='font-family:"Liberation Serif", serif;font-size:36.8px;font-style:italic'>λ</text>
<rect x="392.09" y="1138.43" width="14.38" height="2.59"/>
</g>
<text transform="translate(41.1,858.7) rotate(-90)" text-anchor="middle" style='font-family:"Liberation Serif", serif;font-size:37.6px;font-style:italic'>S<tspan font-size="25.2" dy="8.6">yy</tspan><tspan dy="-8.6">/μ</tspan></text>
<text x="2.2" y="604.2" style='font-family:"Liberation Sans", sans-serif;font-size:42.5px;font-weight:bold;' >C</text>
<clipPath id="clipB"><rect x="815.1" y="40.6" width="611.3000000000001" height="491.79999999999995"/></clipPath>
<g clip-path="url(#clipB)" fill="none" stroke-linejoin="round" stroke-width="2.3">
<path d="M831.9,30.8 L832.1,69.4 L832.3,101.1 L832.4,127.7 L832.6,150.4 L832.8,170.1 L832.9,187.5 L833.1,202.9 L833.3,216.7 L833.4,229.2 L833.6,240.5 L833.8,250.8 L833.9,260.3 L834.1,269.1 L834.3,277.2 L834.4,284.7 L834.6,291.7 L834.8,298.3 L834.9,304.5 L835.1,310.3 L835.3,315.7 L835.4,320.9 L835.6,325.7 L835.8,330.3 L835.9,334.7 L836.1,338.9 L836.3,342.9 L836.4,346.6 L836.6,350.2 L836.8,353.7 L836.9,357.0 L837.1,360.2 L837.3,363.2 L837.4,366.1 L837.6,368.9 L837.8,371.6 L837.9,374.2 L838.1,376.7 L838.3,379.1 L838.4,381.4 L838.6,383.7 L838.8,385.9 L838.9,388.0 L839.1,390.0 L839.3,392.0 L839.4,393.9 L839.6,395.7 L839.8,397.5 L839.9,399.2 L840.1,400.9 L840.3,402.6 L840.4,404.2 L840.6,405.7 L840.8,407.2 L840.9,408.7 L841.1,410.1 L841.3,411.5 L841.4,412.8 L841.6,414.2 L841.8,415.4 L842.8,422.5 L843.7,428.6 L844.7,434.0 L845.7,438.8 L846.7,443.1 L847.7,446.9 L848.7,450.4 L849.7,453.5 L850.7,456.4 L851.7,459.0 L852.7,461.5 L853.7,463.7 L854.7,465.8 L855.7,467.7 L856.7,469.5 L857.7,471.2 L858.7,472.7 L859.7,474.2 L860.7,475.6 L861.6,476.9 L862.6,478.1 L863.6,479.3 L864.6,480.4 L865.6,481.4 L866.6,482.4 L867.6,483.4 L868.6,484.3 L869.6,485.1 L870.6,485.9 L871.6,486.7 L872.6,487.5 L873.6,488.2 L874.6,488.9 L875.6,489.5 L876.6,490.2 L877.6,490.8 L878.5,491.3 L879.5,491.9 L880.5,492.4 L881.5,492.9 L882.5,493.4 L883.5,493.9 L884.5,494.4 L885.5,494.8 L886.5,495.3 L887.5,495.7 L888.5,496.1 L889.5,496.5 L890.5,496.9 L899.6,499.9 L908.6,502.2 L917.7,504.1 L926.8,505.6 L935.9,506.9 L945.0,507.9 L954.1,508.9 L963.1,509.7 L972.2,510.4 L981.3,511.0 L990.4,511.5 L999.5,512.0 L1008.6,512.5 L1017.6,512.9 L1026.7,513.2 L1035.8,513.6 L1044.9,513.9 L1054.0,514.1 L1063.1,514.4 L1072.1,514.6 L1081.2,514.9 L1090.3,515.1 L1099.4,515.3 L1108.5,515.4 L1117.6,515.6 L1126.6,515.8 L1135.7,515.9 L1144.8,516.1 L1153.9,516.2 L1163.0,516.3 L1172.1,516.4 L1181.1,516.6 L1190.2,516.7 L1199.3,516.8 L1208.4,516.9 L1217.5,517.0 L1226.6,517.0 L1235.6,517.1 L1244.7,517.2 L1253.8,517.3 L1262.9,517.4 L1272.0,517.4 L1281.1,517.5 L1290.1,517.6 L1299.2,517.6 L1308.3,517.7 L1317.4,517.8 L1326.5,517.8 L1335.6,517.9 L1344.6,517.9 L1353.7,518.0 L1362.8,518.0 L1371.9,518.1 L1381.0,518.1 L1390.1,518.2 L1399.1,518.2 L1408.2,518.2 L1417.3,518.3 L1426.4,518.3" stroke="#000" stroke-dasharray="6.3 4.4"/>
<path d="M832.1,30.8 L832.3,61.9 L832.5,88.2 L832.6,110.8 L832.8,130.4 L832.9,147.8 L833.1,163.2 L833.3,177.0 L833.4,189.5 L833.6,200.9 L833.8,211.3 L833.9,220.8 L834.1,229.6 L834.3,237.7 L834.4,245.2 L834.6,252.3 L834.7,258.8 L834.9,265.0 L835.1,270.8 L835.2,276.2 L835.4,281.3 L835.6,286.1 L835.7,290.7 L835.9,295.0 L836.0,299.1 L836.2,303.1 L836.4,306.8 L836.5,310.3 L836.7,313.7 L836.9,316.9 L837.0,320.0 L837.2,322.9 L837.4,325.8 L837.5,328.5 L837.7,331.1 L837.8,333.6 L838.0,336.0 L838.2,338.3 L838.3,340.5 L838.5,342.6 L838.7,344.7 L838.8,346.7 L839.0,348.6 L839.1,350.4 L839.3,352.2 L839.5,353.9 L839.6,355.6 L839.8,357.2 L840.0,358.7 L840.1,360.2 L840.3,361.7 L840.5,363.1 L840.6,364.5 L840.8,365.8 L840.9,367.1 L841.1,368.3 L841.3,369.5 L841.4,370.7 L841.6,371.8 L841.8,372.9 L842.8,379.0 L843.7,384.2 L844.7,388.5 L845.7,392.3 L846.7,395.5 L847.7,398.3 L848.7,400.6 L849.7,402.7 L850.7,404.5 L851.7,406.0 L852.7,407.3 L853.7,408.4 L854.7,409.4 L855.7,410.2 L856.7,410.8 L857.7,411.4 L858.7,411.8 L859.7,412.2 L860.7,412.4 L861.6,412.6 L862.6,412.7 L863.6,412.7 L864.6,412.7 L865.6,412.6 L866.6,412.5 L867.6,412.3 L868.6,412.1 L869.6,411.8 L870.6,411.5 L871.6,411.2 L872.6,410.8 L873.6,410.4 L874.6,410.0 L875.6,409.5 L876.6,409.1 L877.6,408.6 L878.5,408.0 L879.5,407.5 L880.5,406.9 L881.5,406.4 L882.5,405.8 L883.5,405.1 L884.5,404.5 L885.5,403.9 L886.5,403.2 L887.5,402.6 L888.5,401.9 L889.5,401.2 L890.5,400.5 L899.6,393.8 L908.6,386.6 L917.7,379.1 L926.8,371.5 L935.9,363.7 L945.0,356.0 L954.1,348.2 L963.1,340.5 L972.2,332.8 L981.3,325.1 L990.4,317.5 L999.5,310.0 L1008.6,302.5 L1017.6,295.2 L1026.7,287.8 L1035.8,280.6 L1044.9,273.4 L1054.0,266.3 L1063.1,259.3 L1072.1,252.3 L1081.2,245.4 L1090.3,238.6 L1099.4,231.8 L1108.5,225.1 L1117.6,218.5 L1126.6,211.9 L1135.7,205.4 L1144.8,198.9 L1153.9,192.5 L1163.0,186.2 L1172.1,179.9 L1181.1,173.7 L1190.2,167.5 L1199.3,161.4 L1208.4,155.3 L1217.5,149.3 L1226.6,143.3 L1235.6,137.4 L1244.7,131.5 L1253.8,125.6 L1262.9,119.8 L1272.0,114.1 L1281.1,108.4 L1290.1,102.7 L1299.2,97.1 L1308.3,91.5 L1317.4,86.0 L1326.5,80.5 L1335.6,75.0 L1344.6,69.5 L1353.7,64.1 L1362.8,58.8 L1371.9,53.5 L1381.0,48.2 L1390.1,42.9 L1399.1,37.7 L1408.2,32.5 L1417.3,27.3 L1426.4,22.2" stroke="#FF0000" stroke-dasharray="6.3 4.4"/>
<path d="M832.9,501.2 L833.0,501.6 L833.2,501.9 L833.3,502.2 L833.5,502.5 L833.6,502.7 L833.8,502.9 L833.9,503.0 L834.1,503.2 L834.2,503.3 L834.4,503.4 L834.5,503.4 L834.7,503.5 L834.8,503.6 L835.0,503.6 L835.1,503.6 L835.3,503.7 L835.4,503.7 L835.6,503.7 L835.7,503.7 L835.9,503.7 L836.0,503.7 L836.2,503.6 L836.3,503.6 L836.5,503.6 L836.6,503.5 L836.8,503.5 L836.9,503.4 L837.1,503.4 L837.2,503.3 L837.4,503.3 L837.5,503.2 L837.7,503.2 L837.8,503.1 L838.0,503.0 L838.1,503.0 L838.3,502.9 L838.4,502.8 L838.6,502.7 L838.7,502.6 L838.9,502.6 L839.0,502.5 L839.2,502.4 L839.3,502.3 L839.5,502.2 L839.7,502.1 L839.8,502.0 L840.0,501.9 L840.1,501.8 L840.3,501.8 L840.4,501.7 L840.6,501.6 L840.7,501.5 L840.9,501.4 L841.0,501.3 L841.2,501.2 L841.3,501.0 L841.5,500.9 L841.6,500.8 L841.8,500.7 L842.8,500.0 L843.7,499.3 L844.7,498.5 L845.7,497.7 L846.7,496.9 L847.7,496.1 L848.7,495.3 L849.7,494.5 L850.7,493.7 L851.7,492.8 L852.7,492.0 L853.7,491.1 L854.7,490.3 L855.7,489.5 L856.7,488.6 L857.7,487.8 L858.7,486.9 L859.7,486.1 L860.7,485.2 L861.6,484.4 L862.6,483.5 L863.6,482.7 L864.6,481.8 L865.6,481.0 L866.6,480.1 L867.6,479.3 L868.6,478.5 L869.6,477.6 L870.6,476.8 L871.6,475.9 L872.6,475.1 L873.6,474.3 L874.6,473.4 L875.6,472.6 L876.6,471.8 L877.6,471.0 L878.5,470.1 L879.5,469.3 L880.5,468.5 L881.5,467.7 L882.5,466.8 L883.5,466.0 L884.5,465.2 L885.5,464.4 L886.5,463.6 L887.5,462.8 L888.5,461.9 L889.5,461.1 L890.5,460.3 L899.6,453.0 L908.6,445.9 L917.7,438.9 L926.8,432.0 L935.9,425.3 L945.0,418.6 L954.1,412.1 L963.1,405.7 L972.2,399.4 L981.3,393.2 L990.4,387.1 L999.5,381.1 L1008.6,375.2 L1017.6,369.3 L1026.7,363.6 L1035.8,357.9 L1044.9,352.3 L1054.0,346.7 L1063.1,341.3 L1072.1,335.8 L1081.2,330.5 L1090.3,325.2 L1099.4,320.0 L1108.5,314.9 L1117.6,309.7 L1126.6,304.7 L1135.7,299.7 L1144.8,294.8 L1153.9,289.9 L1163.0,285.0 L1172.1,280.2 L1181.1,275.4 L1190.2,270.7 L1199.3,266.1 L1208.4,261.4 L1217.5,256.8 L1226.6,252.3 L1235.6,247.8 L1244.7,243.3 L1253.8,238.9 L1262.9,234.5 L1272.0,230.1 L1281.1,225.8 L1290.1,221.5 L1299.2,217.2 L1308.3,213.0 L1317.4,208.8 L1326.5,204.6 L1335.6,200.4 L1344.6,196.3 L1353.7,192.2 L1362.8,188.2 L1371.9,184.1 L1381.0,180.1 L1390.1,176.2 L1399.1,172.2 L1408.2,168.3 L1417.3,164.4 L1426.4,160.5" stroke="#0000FF" stroke-width="2.6"/>
</g>
<rect x="815.10" y="40.60" width="611.30" height="491.80" fill="none" stroke="#161616" stroke-width="2.1"/>
<path d="M817.40,532.40v-9.65M939.20,532.40v-9.65M1061.00,532.40v-9.65M1182.80,532.40v-9.65M1304.60,532.40v-9.65M1426.40,532.40v-9.65" stroke="#0a0a0a" stroke-width="2.0" fill="none"/>
<path d="M878.30,532.40v-4.85M1000.10,532.40v-4.85M1121.90,532.40v-4.85M1243.70,532.40v-4.85M1365.50,532.40v-4.85" stroke="#0a0a0a" stroke-width="2.0" fill="none"/>
<path d="M815.10,532.60h9.65M815.10,368.60h9.65M815.10,204.60h9.65M815.10,40.60h9.65" stroke="#0a0a0a" stroke-width="2.0" fill="none"/>
<path d="M815.10,450.60h4.85M815.10,286.60h4.85M815.10,122.60h4.85" stroke="#0a0a0a" stroke-width="2.0" fill="none"/>
<path d="M1426.40,532.60h-9.65M1426.40,409.60h-9.65M1426.40,286.60h-9.65M1426.40,163.60h-9.65M1426.40,40.60h-9.65" stroke="#0a0a0a" stroke-width="2.0" fill="none"/>
<path d="M1426.40,471.10h-4.85M1426.40,348.10h-4.85M1426.40,225.10h-4.85M1426.40,102.10h-4.85" stroke="#0a0a0a" stroke-width="2.0" fill="none"/>
<text x="818.1" y="557.5" text-anchor="middle" style='font-family:"Liberation Serif", serif;font-size:33.5px;' >1</text>
<text x="939.3" y="557.5" text-anchor="middle" style='font-family:"Liberation Serif", serif;font-size:33.5px;' >2</text>
<text x="1061.0" y="557.5" text-anchor="middle" style='font-family:"Liberation Serif", serif;font-size:33.5px;' >3</text>
<text x="1181.0" y="557.5" text-anchor="middle" style='font-family:"Liberation Serif", serif;font-size:33.5px;' >4</text>
<text x="1304.2" y="557.5" text-anchor="middle" style='font-family:"Liberation Serif", serif;font-size:33.5px;' >5</text>
<text x="1422.3" y="557.5" text-anchor="middle" style='font-family:"Liberation Serif", serif;font-size:33.5px;' >6</text>
<text x="809.5" y="57.6" text-anchor="end" style='font-family:"Liberation Serif", serif;font-size:33.5px;' >2.5</text>
<text x="809.5" y="213.2" text-anchor="end" style='font-family:"Liberation Serif", serif;font-size:33.5px;' >2.0</text>
<text x="809.5" y="375.2" text-anchor="end" style='font-family:"Liberation Serif", serif;font-size:33.5px;' >1.5</text>
<text x="809.5" y="529.8" text-anchor="end" style='font-family:"Liberation Serif", serif;font-size:33.5px;' >1.0</text>
<text x="1430.0" y="57.2" fill="#0000FF" style='font-family:"Liberation Serif", serif;font-size:33.5px;' >2.0</text>
<text x="1430.0" y="172.5" fill="#0000FF" style='font-family:"Liberation Serif", serif;font-size:33.5px;' >1.5</text>
<text x="1430.0" y="288.6" fill="#0000FF" style='font-family:"Liberation Serif", serif;font-size:33.5px;' >1.0</text>
<text x="1430.0" y="412.2" fill="#0000FF" style='font-family:"Liberation Serif", serif;font-size:33.5px;' >0.5</text>
<text x="1430.0" y="527.2" fill="#0000FF" style='font-family:"Liberation Serif", serif;font-size:33.5px;' >0.0</text>
<text x="840.5" y="69.9" style='font-family:"Liberation Serif", serif;font-size:35.0px;' >α=0.1</text>
<text x="1117.0" y="581.0" text-anchor="middle" style='font-family:"Liberation Serif", serif;font-size:33.5px;font-style:italic;' >r</text>
<text transform="translate(756.3,285.4) rotate(-90)" text-anchor="middle" style='font-family:"Liberation Serif", serif;font-size:36.3px'>Critical stretch</text>
<g transform="translate(1501.5,330.8) rotate(-90)">
<g fill="#0000FF" stroke="none">
<text transform="translate(0.97,0.00) scale(1.12,1)" style='font-family:"Liberation Serif", serif;font-size:36px;font-style:italic'>λ</text>
<rect x="5.75" y="-31.17" width="13.59" height="2.53"/>
<text x="17.57" y="7.06" style='font-family:"Liberation Sans", sans-serif;font-size:23.0px'>2</text>
</g>
<rect x="46.1" y="-11.9" width="20.3" height="2.5" fill="#0000FF"/>
<g fill="#0000FF" stroke="none">
<text transform="translate(79.57,0.00) scale(1.12,1)" style='font-family:"Liberation Serif", serif;font-size:36px;font-style:italic'>λ</text>
<rect x="84.35" y="-31.17" width="13.59" height="2.53"/>
<text x="95.57" y="7.06" style='font-family:"Liberation Sans", sans-serif;font-size:23.0px'>1</text>
</g>
</g>
<line x1="913.9" y1="301.0" x2="983.6" y2="301.0" stroke="#FF0000" stroke-width="2.8" stroke-dasharray="3 3"/>
<path d="M897.9,301.0 l17.8,-8.6 v17.2 Z" fill="#FF0000"/>
<g fill="#FF0000" stroke="none">
<text transform="translate(973.87,291.10) scale(1.1,1)" style='font-family:"Liberation Serif", serif;font-size:36.8px;font-style:italic'>λ</text>
<rect x="978.67" y="259.23" width="13.64" height="2.59"/>
<text x="990.44" y="298.26" style='font-family:"Liberation Sans", sans-serif;font-size:25.0px'>2</text>
</g>
<line x1="914.1" y1="484.3" x2="983.2" y2="484.3" stroke="#000" stroke-width="2.8" stroke-dasharray="3 3"/>
<path d="M898.1,484.3 l17.8,-8.6 v17.2 Z" fill="#000"/>
<g fill="#000" stroke="none">
<text transform="translate(996.87,498.80) scale(1.1,1)" style='font-family:"Liberation Serif", serif;font-size:36.8px;font-style:italic'>λ</text>
<rect x="1001.67" y="466.93" width="13.64" height="2.59"/>
<text x="1012.79" y="505.96" style='font-family:"Liberation Sans", sans-serif;font-size:25.0px'>1</text>
</g>
<line x1="1287.2" y1="241.8" x2="1358.8" y2="241.8" stroke="#0000FF" stroke-width="2.9"/>
<path d="M1372.8,241.8 l-17.5,-8.3 v16.6 Z" fill="#0000FF"/>
<text x="719.2" y="31.8" style='font-family:"Liberation Sans", sans-serif;font-size:42.5px;font-weight:bold;' >B</text>
<clipPath id="clipD"><rect x="817.8" y="622.1" width="611.1000000000001" height="491.30000000000007"/></clipPath>
<g clip-path="url(#clipD)" fill="none" stroke-linejoin="round" stroke-width="2.3">
<path d="M827.8,1112.6 L834.5,1111.9 L841.3,1111.3 L848.0,1110.6 L854.8,1109.9 L861.6,1109.2 L868.3,1108.4 L875.1,1107.7 L881.8,1107.0 L888.6,1106.2 L895.3,1105.5 L902.1,1104.7 L908.8,1103.9 L915.6,1103.1 L922.3,1102.3 L929.1,1101.5 L935.8,1100.6 L942.6,1099.8 L949.4,1098.9 L956.1,1098.0 L962.9,1097.2 L969.6,1096.2 L976.4,1095.3 L983.1,1094.4 L989.9,1093.4 L996.6,1092.5 L1003.4,1091.5 L1010.1,1090.5 L1016.9,1089.4 L1023.6,1088.4 L1030.4,1087.3 L1037.2,1086.2 L1043.9,1085.1 L1050.7,1084.0 L1057.4,1082.8 L1064.2,1081.7 L1070.9,1080.5 L1077.7,1079.2 L1084.4,1078.0 L1091.2,1076.7 L1097.9,1075.4 L1104.7,1074.0 L1111.4,1072.7 L1118.2,1071.2 L1125.0,1069.8 L1131.7,1068.3 L1138.5,1066.8 L1145.2,1065.3 L1152.0,1063.7 L1158.7,1062.0 L1165.5,1060.4 L1172.2,1058.6 L1179.0,1056.9 L1185.7,1055.1 L1192.5,1053.2 L1199.2,1051.2 L1206.0,1049.3 L1212.8,1047.2 L1219.5,1045.1 L1226.3,1042.9 L1233.0,1040.6 L1239.8,1038.3 L1246.5,1035.9 L1253.3,1033.3 L1260.0,1030.7 L1266.8,1028.0 L1273.5,1025.2 L1280.3,1022.3 L1287.0,1019.2 L1293.8,1016.0 L1300.6,1012.7 L1307.3,1009.2 L1314.1,1005.5 L1320.8,1001.6 L1327.6,997.6 L1334.3,993.3 L1341.1,988.8 L1347.8,984.0 L1354.6,978.9 L1361.3,973.5 L1368.1,967.7 L1374.8,961.5 L1381.6,954.8 L1388.4,947.6 L1395.1,939.7 L1401.9,931.1 L1408.6,921.6 L1415.4,911.2 L1422.1,899.5 L1428.9,886.3" stroke="#000" stroke-dasharray="6.3 4.4"/>
<path d="M827.8,967.7 L834.5,966.6 L841.3,965.4 L848.0,964.2 L854.8,963.0 L861.6,961.8 L868.3,960.5 L875.1,959.3 L881.8,958.0 L888.6,956.7 L895.3,955.4 L902.1,954.0 L908.8,952.7 L915.6,951.3 L922.3,949.9 L929.1,948.5 L935.8,947.0 L942.6,945.5 L949.4,944.0 L956.1,942.5 L962.9,941.0 L969.6,939.4 L976.4,937.8 L983.1,936.2 L989.9,934.5 L996.6,932.8 L1003.4,931.1 L1010.1,929.4 L1016.9,927.6 L1023.6,925.8 L1030.4,923.9 L1037.2,922.1 L1043.9,920.1 L1050.7,918.2 L1057.4,916.2 L1064.2,914.1 L1070.9,912.0 L1077.7,909.9 L1084.4,907.7 L1091.2,905.5 L1097.9,903.2 L1104.7,900.9 L1111.4,898.5 L1118.2,896.1 L1125.0,893.6 L1131.7,891.1 L1138.5,888.4 L1145.2,885.8 L1152.0,883.0 L1158.7,880.2 L1165.5,877.3 L1172.2,874.3 L1179.0,871.2 L1185.7,868.1 L1192.5,864.8 L1199.2,861.5 L1206.0,858.0 L1212.8,854.5 L1219.5,850.8 L1226.3,847.0 L1233.0,843.1 L1239.8,839.0 L1246.5,834.8 L1253.3,830.4 L1260.0,825.9 L1266.8,821.2 L1273.5,816.3 L1280.3,811.3 L1287.0,805.9 L1293.8,800.4 L1300.6,794.6 L1307.3,788.6 L1314.1,782.2 L1320.8,775.5 L1327.6,768.5 L1334.3,761.1 L1341.1,753.3 L1347.8,745.0 L1354.6,736.2 L1361.3,726.8 L1368.1,716.7 L1374.8,706.0 L1381.6,694.4 L1388.4,681.9 L1395.1,668.2 L1401.9,653.4 L1408.6,637.0 L1415.4,618.9 L1422.1,598.6 L1428.9,575.7" stroke="#FF0000" stroke-dasharray="6.3 4.4"/>
<path d="M827.8,932.8 L834.5,932.2 L841.3,931.6 L848.0,931.0 L854.8,930.3 L861.6,929.7 L868.3,929.0 L875.1,928.4 L881.8,927.7 L888.6,927.0 L895.3,926.3 L902.1,925.6 L908.8,924.9 L915.6,924.2 L922.3,923.4 L929.1,922.7 L935.8,921.9 L942.6,921.2 L949.4,920.4 L956.1,919.6 L962.9,918.8 L969.6,917.9 L976.4,917.1 L983.1,916.2 L989.9,915.4 L996.6,914.5 L1003.4,913.6 L1010.1,912.6 L1016.9,911.7 L1023.6,910.7 L1030.4,909.8 L1037.2,908.8 L1043.9,907.8 L1050.7,906.7 L1057.4,905.7 L1064.2,904.6 L1070.9,903.5 L1077.7,902.4 L1084.4,901.2 L1091.2,900.1 L1097.9,898.9 L1104.7,897.7 L1111.4,896.4 L1118.2,895.1 L1125.0,893.8 L1131.7,892.5 L1138.5,891.1 L1145.2,889.7 L1152.0,888.2 L1158.7,886.7 L1165.5,885.2 L1172.2,883.6 L1179.0,882.0 L1185.7,880.3 L1192.5,878.6 L1199.2,876.9 L1206.0,875.0 L1212.8,873.2 L1219.5,871.2 L1226.3,869.2 L1233.0,867.2 L1239.8,865.0 L1246.5,862.8 L1253.3,860.5 L1260.0,858.1 L1266.8,855.7 L1273.5,853.1 L1280.3,850.4 L1287.0,847.6 L1293.8,844.7 L1300.6,841.7 L1307.3,838.5 L1314.1,835.1 L1320.8,831.6 L1327.6,827.9 L1334.3,824.0 L1341.1,819.9 L1347.8,815.5 L1354.6,810.9 L1361.3,805.9 L1368.1,800.6 L1374.8,795.0 L1381.6,788.9 L1388.4,782.3 L1395.1,775.1 L1401.9,767.2 L1408.6,758.6 L1415.4,749.1 L1422.1,738.4 L1428.9,726.4" stroke="#0000FF" stroke-width="2.6"/>
</g>
<rect x="817.80" y="622.10" width="611.10" height="491.30" fill="none" stroke="#161616" stroke-width="2.1"/>
<path d="M817.60,1113.40v-9.65M919.48,1113.40v-9.65M1021.36,1113.40v-9.65M1123.24,1113.40v-9.65M1225.12,1113.40v-9.65M1327.00,1113.40v-9.65M1428.88,1113.40v-9.65" stroke="#0a0a0a" stroke-width="2.0" fill="none"/>
<path d="M868.54,1113.40v-4.85M970.42,1113.40v-4.85M1072.30,1113.40v-4.85M1174.18,1113.40v-4.85M1276.06,1113.40v-4.85M1377.94,1113.40v-4.85" stroke="#0a0a0a" stroke-width="2.0" fill="none"/>
<path d="M817.80,1113.60h9.65M817.80,1015.15h9.65M817.80,916.70h9.65M817.80,818.25h9.65M817.80,719.80h9.65M817.80,621.35h9.65" stroke="#0a0a0a" stroke-width="2.0" fill="none"/>
<path d="M817.80,1064.38h4.85M817.80,965.92h4.85M817.80,867.47h4.85M817.80,769.02h4.85M817.80,670.57h4.85" stroke="#0a0a0a" stroke-width="2.0" fill="none"/>
<path d="M1428.90,1113.40h-9.65M1428.90,990.70h-9.65M1428.90,868.00h-9.65M1428.90,745.30h-9.65M1428.90,622.60h-9.65" stroke="#0a0a0a" stroke-width="2.0" fill="none"/>
<path d="M1428.90,1052.05h-4.85M1428.90,929.35h-4.85M1428.90,806.65h-4.85M1428.90,683.95h-4.85" stroke="#0a0a0a" stroke-width="2.0" fill="none"/>
<text x="821.9" y="1146.0" text-anchor="middle" style='font-family:"Liberation Serif", serif;font-size:33.5px;' >0.0</text>
<text x="919.8" y="1146.0" text-anchor="middle" style='font-family:"Liberation Serif", serif;font-size:33.5px;' >0.1</text>
<text x="1021.8" y="1146.0" text-anchor="middle" style='font-family:"Liberation Serif", serif;font-size:33.5px;' >0.2</text>
<text x="1124.3" y="1146.0" text-anchor="middle" style='font-family:"Liberation Serif", serif;font-size:33.5px;' >0.3</text>
<text x="1225.0" y="1146.0" text-anchor="middle" style='font-family:"Liberation Serif", serif;font-size:33.5px;' >0.4</text>
<text x="1326.6" y="1146.0" text-anchor="middle" style='font-family:"Liberation Serif", serif;font-size:33.5px;' >0.5</text>
<text x="1428.2" y="1146.0" text-anchor="middle" style='font-family:"Liberation Serif", serif;font-size:33.5px;' >0.6</text>
<text x="809.5" y="640.8" text-anchor="end" style='font-family:"Liberation Serif", serif;font-size:33.5px;' >3.5</text>
<text x="809.5" y="736.4" text-anchor="end" style='font-family:"Liberation Serif", serif;font-size:33.5px;' >3.0</text>
<text x="809.5" y="833.4" text-anchor="end" style='font-family:"Liberation Serif", serif;font-size:33.5px;' >2.5</text>
<text x="809.5" y="929.5" text-anchor="end" style='font-family:"Liberation Serif", serif;font-size:33.5px;' >2.0</text>
<text x="809.5" y="1023.6" text-anchor="end" style='font-family:"Liberation Serif", serif;font-size:33.5px;' >1.5</text>
<text x="809.5" y="1110.9" text-anchor="end" style='font-family:"Liberation Serif", serif;font-size:33.5px;' >1.0</text>
<text x="1430.0" y="642.8" fill="#0000FF" style='font-family:"Liberation Serif", serif;font-size:33.5px;' >2.0</text>
<text x="1430.0" y="759.2" fill="#0000FF" style='font-family:"Liberation Serif", serif;font-size:33.5px;' >1.5</text>
<text x="1430.0" y="872.7" fill="#0000FF" style='font-family:"Liberation Serif", serif;font-size:33.5px;' >1.0</text>
<text x="1430.0" y="998.0" fill="#0000FF" style='font-family:"Liberation Serif", serif;font-size:33.5px;' >0.5</text>
<text x="1430.0" y="1112.4" fill="#0000FF" style='font-family:"Liberation Serif", serif;font-size:33.5px;' >0.0</text>
<text x="840.4" y="660.0" style='font-family:"Liberation Serif", serif;font-size:35.0px'><tspan font-style="italic">r</tspan><tspan dx="0.6">=3</tspan></text>
<text x="1121.0" y="1177.2" text-anchor="middle" style='font-family:"Liberation Serif", serif;font-size:33.5px;' >α</text>
<text transform="translate(759.8,868.0) rotate(-90)" text-anchor="middle" style='font-family:"Liberation Serif", serif;font-size:36.3px'>Critical stretch</text>
<g transform="translate(1500.2,912.2) rotate(-90)">
<g fill="#0000FF" stroke="none">
<text transform="translate(0.97,0.00) scale(1.12,1)" style='font-family:"Liberation Serif", serif;font-size:36px;font-style:italic'>λ</text>
<rect x="5.75" y="-31.17" width="13.59" height="2.53"/>
<text x="17.57" y="7.06" style='font-family:"Liberation Sans", sans-serif;font-size:23.0px'>2</text>
</g>
<rect x="46.1" y="-11.9" width="20.3" height="2.5" fill="#0000FF"/>
<g fill="#0000FF" stroke="none">
<text transform="translate(79.57,0.00) scale(1.12,1)" style='font-family:"Liberation Serif", serif;font-size:36px;font-style:italic'>λ</text>
<rect x="84.35" y="-31.17" width="13.59" height="2.53"/>
<text x="95.57" y="7.06" style='font-family:"Liberation Sans", sans-serif;font-size:23.0px'>1</text>
</g>
</g>
<line x1="870.9" y1="861.3" x2="940.7" y2="861.3" stroke="#FF0000" stroke-width="2.8" stroke-dasharray="3 3"/>
<path d="M854.9,861.3 l17.8,-8.6 v17.2 Z" fill="#FF0000"/>
<g fill="#FF0000" stroke="none">
<text transform="translate(952.97,874.80) scale(1.1,1)" style='font-family:"Liberation Serif", serif;font-size:36.8px;font-style:italic'>λ</text>
<rect x="957.77" y="842.93" width="13.64" height="2.59"/>
<text x="969.54" y="881.96" style='font-family:"Liberation Sans", sans-serif;font-size:25.0px'>2</text>
</g>
<line x1="867.9" y1="1076.1" x2="937.5" y2="1076.1" stroke="#000" stroke-width="2.8" stroke-dasharray="3 3"/>
<path d="M851.9,1076.1 l17.8,-8.6 v17.2 Z" fill="#000"/>
<g fill="#000" stroke="none">
<text transform="translate(951.17,1081.70) scale(1.1,1)" style='font-family:"Liberation Serif", serif;font-size:36.8px;font-style:italic'>λ</text>
<rect x="955.97" y="1049.83" width="13.64" height="2.59"/>
<text x="967.09" y="1088.86" style='font-family:"Liberation Sans", sans-serif;font-size:25.0px'>1</text>
</g>
<line x1="1307.5" y1="855" x2="1378" y2="855" stroke="#0000FF" stroke-width="2.9"/>
<path d="M1392,855 l-17.5,-8.3 v16.6 Z" fill="#0000FF"/>
<text x="719.2" y="603.6" style='font-family:"Liberation Sans", sans-serif;font-size:42.5px;font-weight:bold;' >D</text>
</svg>
</body></html>
